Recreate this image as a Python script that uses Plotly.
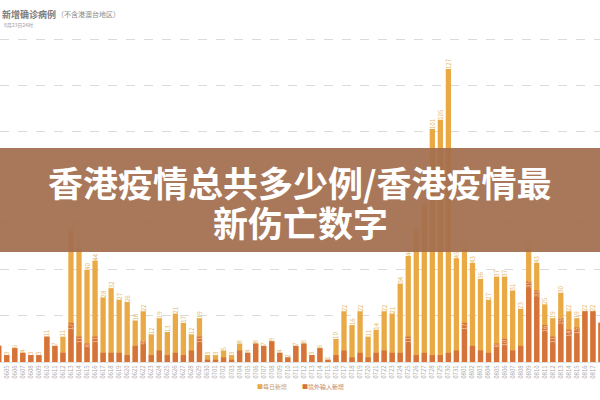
import plotly.graph_objects as go

dates = (["06%02d" % d for d in range(4, 31)] +
         ["07%02d" % d for d in range(1, 32)] +
         ["08%02d" % d for d in range(1, 19)])

total_new = [7, 3, 6, 4, 3, 3, 11, 7, 11, 57,
             49, 40, 44, 28, 32, 27, 26, 18, 22, 12,
             19, 13, 21, 17, 12, 19, 3, 3, 5, 3,
             8, 4, 8, 7, 9, 4, 2, 7, 8, 3,
             6, 1, 10, 22, 16, 22, 11, 14, 22, 21,
             34, 46, 57, 68, 101, 105, 127, 45, 49, 43,
             36, 27, 37, 37, 31, 23, 49, 43, 25, 19,
             30, 22, 19, 22, 22, 17]

imported_new = [7, 3, 6, 4, 3, 3, 11, 7, 4, 17,
                11, 8, 11, 4, 4, 4, 3, 7, 9, 3,
                5, 3, 4, 3, 5, 11, 1, 1, 2, 1,
                5, 4, 8, 7, 9, 4, 2, 7, 8, 3,
                6, 1, 3, 5, 2, 4, 2, 4, 5, 4,
                4, 11, 3, 4, 3, 3, 4, 5, 17, 7,
                5, 4, 8, 10, 5, 7, 35, 31, 16, 11,
                19, 14, 15, 22, 22, 17]

series_names = ["每日新增", "境外输入新增"]
title_main = "新增确诊病例"
title_note = "（不含港澳台地区）"
title_sub = "8月23日24时"
banner_lines = ["香港疫情总共多少例/香港疫情最", "新伤亡数字"]

light = "#E9AA45"
dark = "#D6733A"

imp_text = [str(v) if (v >= 8 and v < t) else "" for v, t in zip(imported_new, total_new)]

fig = go.Figure()
fig.add_trace(go.Bar(
    x=dates, y=total_new, name=series_names[0],
    marker=dict(color=light, line=dict(width=0)),
    text=[str(v) for v in total_new], textposition="outside",
    textangle=-90, textfont=dict(size=6, color="#E2B565"),
    cliponaxis=False, constraintext="none", showlegend=False,
))
fig.add_trace(go.Bar(
    x=dates, y=imported_new, name=series_names[1],
    marker=dict(color=dark, line=dict(width=0)),
    text=imp_text, textposition="inside", insidetextanchor="end",
    textangle=-90, textfont=dict(size=6, color="#F6D2B0"),
    constraintext="none", showlegend=False,
))

T, B = 37, 38
plot_h = 400 - T - B
px_per_unit = 2.307
ymax = plot_h / px_per_unit


def py(pixel_y):
    return (400 - B - pixel_y) / plot_h


annotations = [
    dict(text="<b>" + banner_lines[0] + "</b>", x=0.5, y=py(181)),
    dict(text="<b>" + banner_lines[1] + "</b>", x=0.5, y=py(221)),
]
annotations = [dict(a, xref="paper", yref="paper", xanchor="center", yanchor="middle",
                    showarrow=False,
                    font=dict(size=35, color="white", family="Noto Sans CJK SC, sans-serif"))
               for a in annotations]
annotations += [
    dict(text="<b>" + title_main + "</b>", xref="paper", yref="paper",
         x=0.0, y=py(14), xanchor="left", yanchor="middle",
         showarrow=False, font=dict(size=9, color="#7E7E7E")),
    dict(text=title_note, xref="paper", yref="paper",
         x=0.092, y=py(14), xanchor="left", yanchor="middle",
         showarrow=False, font=dict(size=7, color="#8A8A8A")),
    dict(text=title_sub, xref="paper", yref="paper",
         x=0.004, y=py(25), xanchor="left", yanchor="middle",
         showarrow=False, font=dict(size=5, color="#9A9A9A")),
    dict(text="<span style='color:%s'>■</span>%s" % (light, series_names[0]),
         xref="paper", yref="paper", x=255 / 600, y=py(386), xanchor="left", yanchor="middle",
         showarrow=False, font=dict(size=6, color="#C8A064")),
    dict(text="<span style='color:%s'>■</span>%s" % (dark, series_names[1]),
         xref="paper", yref="paper", x=300 / 600, y=py(386), xanchor="left", yanchor="middle",
         showarrow=False, font=dict(size=6, color="#C08060")),
]

fig.update_layout(
    width=600, height=400,
    margin=dict(l=0, r=0, t=T, b=B, autoexpand=False),
    paper_bgcolor="white", plot_bgcolor="white",
    barmode="overlay", bargap=0.34,
    font=dict(family="Noto Sans CJK SC, sans-serif"),
    showlegend=False,
    xaxis=dict(type="category", range=[0.162, 74.88], tickangle=-90, automargin=False,
               tickfont=dict(size=6, color="#A8A8A8"), showgrid=False,
               showline=True, linecolor="#E2E2E2", ticks="", ticklen=0),
    yaxis=dict(range=[0, ymax], dtick=20, showticklabels=False, automargin=False,
               showgrid=True, gridcolor="#DADADA", griddash="dash", gridwidth=1,
               zeroline=False),
    shapes=[dict(type="rect", xref="paper", yref="paper",
                 x0=-0.01, x1=1.01, y0=py(252), y1=py(148),
                 fillcolor="rgba(163,110,78,0.93)", line=dict(width=0), layer="above")],
    annotations=annotations,
)

fig.write_html("out.html",
               config={"displayModeBar": False, "staticPlot": True},
               post_script="document.body.style.margin='0';document.body.style.overflow='hidden';")
